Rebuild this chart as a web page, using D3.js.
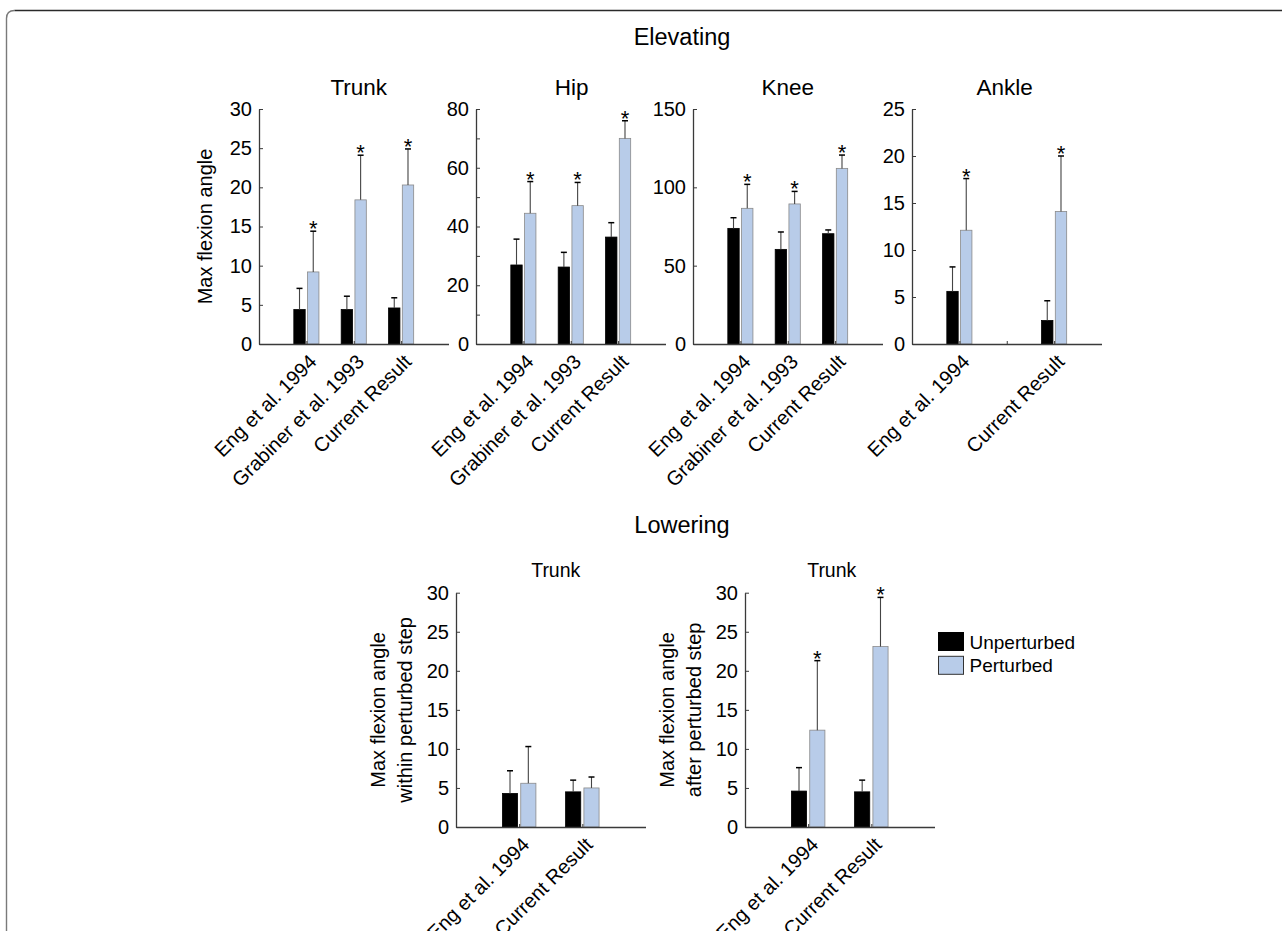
<!DOCTYPE html>
<html>
<head>
<meta charset="utf-8">
<script src="https://cdn.jsdelivr.net/npm/d3@7"></script>
<style>
  html, body { margin: 0; padding: 0; background: #fff; }
  svg { display: block; }
  text { font-family: "Liberation Sans", Arial, sans-serif; fill: #000; }
</style>
</head>
<body>
<svg id="chart" width="1282" height="931"></svg>
<script>
// ---- Data -------------------------------------------------------------
const studiesThree = ["Eng et al. 1994", "Grabiner et al. 1993", "Current Result"];
const studiesAnkle = ["Eng et al. 1994", "", "Current Result"];
const studiesTwo = ["Eng et al. 1994", "Current Result"];

// Elevating: mean and SD of maximum flexion angle (deg)
const trunkUnpert = [4.4, 4.4, 4.6];
const trunkUnpertSd = [2.7, 1.7, 1.3];
const trunkPert = [9.2, 18.4, 20.3];
const trunkPertSd = [5.2, 5.7, 4.6];
const trunkSig = [true, true, true];

const hipUnpert = [26.9, 26.2, 36.4];
const hipUnpertSd = [8.8, 5.0, 4.9];
const hipPert = [44.5, 47.1, 70.0];
const hipPertSd = [10.8, 7.9, 6.0];
const hipSig = [true, true, true];

const kneeUnpert = [73.8, 60.4, 70.4];
const kneeUnpertSd = [6.8, 11.1, 2.4];
const kneePert = [86.6, 89.4, 112.1];
const kneePertSd = [15.3, 8.0, 8.5];
const kneeSig = [true, true, true];

const ankleUnpert = [5.6, 0, 2.5];
const ankleUnpertSd = [2.6, 0, 2.1];
const anklePert = [12.1, 0, 14.1];
const anklePertSd = [5.5, 0, 5.9];
const ankleSig = [true, false, true];

// Lowering: trunk flexion within and after the perturbed step
const withinUnpert = [4.3, 4.5];
const withinUnpertSd = [2.9, 1.5];
const withinPert = [5.6, 5.0];
const withinPertSd = [4.7, 1.4];
const withinSig = [false, false];

const afterUnpert = [4.6, 4.5];
const afterUnpertSd = [3.0, 1.5];
const afterPert = [12.4, 23.1];
const afterPertSd = [8.9, 6.3];
const afterSig = [true, true];

// Tick values and labels
const ticks30 = [0, 5, 10, 15, 20, 25, 30];
const ticks25 = [0, 5, 10, 15, 20, 25];
const ticks80 = [0, 10, 20, 30, 40, 50, 60, 70, 80];
const ticks80Labels = ["0", "", "20", "", "40", "", "60", "", "80"];
const ticks150 = [0, 50, 100, 150];

const seriesNames = ["Unperturbed", "Perturbed"];
const sectionTitles = ["Elevating", "Lowering"];

// ---- Styling ----------------------------------------------------------
const FONT = '"Liberation Sans", Arial, sans-serif';
const C_UNPERT = "#000000";
const C_PERT = "#b8cce9";
const AXIS = "#3a3a3a";

const svg = d3.select("#chart");

// Frame around the figure
svg.append("path")
  .attr("d", "M6.5,931 V18.5 Q6.5,10.5 14.5,10.5")
  .attr("fill", "none").attr("stroke", "#7a7a7a").attr("stroke-width", 1.4);
svg.append("path")
  .attr("d", "M14.5,10.5 H1282")
  .attr("fill", "none").attr("stroke", "#2a2a2a").attr("stroke-width", 1.4);

// Section headings
svg.append("text").attr("x", 682).attr("y", 45)
  .attr("text-anchor", "middle").style("font-size", "23.5px").text(sectionTitles[0]);
svg.append("text").attr("x", 682).attr("y", 533)
  .attr("text-anchor", "middle").style("font-size", "23.5px").text(sectionTitles[1]);

// ---- Panels -----------------------------------------------------------
const panels = [
  { title: "Trunk", titleSize: 22.5, titleY: 95, titleDx: 5,
    x0: 259, y0: 109, y1: 344, cats: studiesThree,
    u: trunkUnpert, us: trunkUnpertSd, p: trunkPert, ps: trunkPertSd, sig: trunkSig,
    max: 30, ticks: ticks30, labels: null, ylab: ["Max flexion angle"] },
  { title: "Hip", titleSize: 22.5, titleY: 95, titleDx: 1,
    x0: 476, y0: 109, y1: 344, cats: studiesThree,
    u: hipUnpert, us: hipUnpertSd, p: hipPert, ps: hipPertSd, sig: hipSig,
    max: 80, ticks: ticks80, labels: ticks80Labels, ylab: null },
  { title: "Knee", titleSize: 22.5, titleY: 95, titleDx: 0,
    x0: 693, y0: 109, y1: 344, cats: studiesThree,
    u: kneeUnpert, us: kneeUnpertSd, p: kneePert, ps: kneePertSd, sig: kneeSig,
    max: 150, ticks: ticks150, labels: null, ylab: null },
  { title: "Ankle", titleSize: 22.5, titleY: 95, titleDx: -2,
    x0: 912, y0: 109, y1: 344, cats: studiesAnkle,
    u: ankleUnpert, us: ankleUnpertSd, p: anklePert, ps: anklePertSd, sig: ankleSig,
    max: 25, ticks: ticks25, labels: null, ylab: null },
  { title: "Trunk", titleSize: 19.5, titleY: 577, titleDx: 5,
    x0: 456, y0: 592.7, y1: 827, cats: studiesTwo,
    u: withinUnpert, us: withinUnpertSd, p: withinPert, ps: withinPertSd, sig: withinSig,
    max: 30, ticks: ticks30, labels: null, ylab: ["Max flexion angle", "within perturbed step"] },
  { title: "Trunk", titleSize: 19.5, titleY: 577, titleDx: -8,
    x0: 745, y0: 592.7, y1: 827, cats: studiesTwo,
    u: afterUnpert, us: afterUnpertSd, p: afterPert, ps: afterPertSd, sig: afterSig,
    max: 30, ticks: ticks30, labels: null, ylab: ["Max flexion angle", "after perturbed step"] }
];

const PANEL_W = 189.5;
const BAR_W = 0.24;      // bar width in category units
const BAR_OFF = 0.145;   // half distance between the two bars of a group

panels.forEach(pn => {
  const n = pn.cats.length;
  const x = d3.scaleLinear().domain([0, n + 1]).range([pn.x0, pn.x0 + PANEL_W]);
  const y = d3.scaleLinear().domain([0, pn.max]).range([pn.y1, pn.y0]);
  const g = svg.append("g");

  // Title
  g.append("text")
    .attr("x", pn.x0 + PANEL_W / 2 + pn.titleDx).attr("y", pn.titleY)
    .attr("text-anchor", "middle").style("font-size", pn.titleSize + "px")
    .text(pn.title);

  // Y axis (ticks pointing inward)
  const yAxis = d3.axisLeft(y).tickValues(pn.ticks)
    .tickSizeInner(-4).tickSizeOuter(0).tickPadding(7)
    .tickFormat((d, i) => pn.labels ? pn.labels[i] : d3.format("d")(d));
  const ya = g.append("g").attr("transform", `translate(${pn.x0},0)`).call(yAxis);
  ya.select(".domain").attr("stroke", AXIS).attr("stroke-width", 1.3);
  ya.selectAll(".tick line").attr("stroke", AXIS);
  ya.selectAll(".tick text").style("font-family", FONT).style("font-size", "20px")
    .attr("fill", "#000");

  // Bars
  const idx = d3.range(n);
  const groups = [
    { vals: pn.u, sds: pn.us, off: -BAR_OFF, fill: C_UNPERT, stroke: "#000", sig: null },
    { vals: pn.p, sds: pn.ps, off: BAR_OFF, fill: C_PERT, stroke: "#8a8a8a", sig: pn.sig }
  ];
  groups.forEach(s => {
    const bw = x(BAR_W) - x(0);
    g.selectAll(null).data(idx).enter().append("rect")
      .attr("x", i => x(i + 1 + s.off) - bw / 2)
      .attr("y", i => y(s.vals[i]))
      .attr("width", bw)
      .attr("height", i => y(0) - y(s.vals[i]))
      .attr("fill", s.fill)
      .attr("stroke", s.stroke).attr("stroke-width", 0.8);

    // One-sided error bars with caps
    const withErr = idx.filter(i => s.sds[i] > 0);
    g.selectAll(null).data(withErr).enter().append("line")
      .attr("x1", i => x(i + 1 + s.off)).attr("x2", i => x(i + 1 + s.off))
      .attr("y1", i => y(s.vals[i])).attr("y2", i => y(s.vals[i] + s.sds[i]))
      .attr("stroke", "#444").attr("stroke-width", 1.1);
    g.selectAll(null).data(withErr).enter().append("line")
      .attr("x1", i => x(i + 1 + s.off) - 3).attr("x2", i => x(i + 1 + s.off) + 3)
      .attr("y1", i => y(s.vals[i] + s.sds[i])).attr("y2", i => y(s.vals[i] + s.sds[i]))
      .attr("stroke", "#000").attr("stroke-width", 1.5);

    // Significance markers
    if (s.sig) {
      g.selectAll(null).data(idx.filter(i => s.sig[i])).enter().append("text")
        .attr("x", i => x(i + 1 + s.off)).attr("y", i => y(s.vals[i] + s.sds[i]) + 5)
        .attr("text-anchor", "middle").style("font-size", "22px").text("*");
    }
  });

  // X axis baseline with inward ticks and rotated labels
  const xAxis = d3.axisBottom(x).tickValues(d3.range(1, n + 1))
    .tickSizeInner(-3).tickSizeOuter(0).tickFormat(d => pn.cats[d - 1]);
  const xa = g.append("g").attr("transform", `translate(0,${pn.y1})`).call(xAxis);
  xa.select(".domain").attr("stroke", AXIS).attr("stroke-width", 1.3);
  xa.selectAll(".tick line").attr("stroke", AXIS);
  xa.selectAll(".tick text")
    .style("font-family", FONT).style("font-size", "20px").attr("fill", "#000")
    .attr("text-anchor", "end").attr("dy", null).attr("y", null)
    .attr("transform", "translate(11,19) rotate(-45)");

  // Y label
  if (pn.ylab) {
    const k = pn.ylab.length;
    pn.ylab.forEach((line, j) => {
      const bx = k === 1 ? pn.x0 - 47 : pn.x0 - 71.5 + j * 27;
      g.append("text")
        .attr("transform", `translate(${bx},${(pn.y0 + pn.y1) / 2}) rotate(-90)`)
        .attr("text-anchor", "middle").style("font-size", "20px").text(line);
    });
  }
});

// ---- Legend -----------------------------------------------------------
const legend = svg.append("g").attr("transform", "translate(938.5,632.5)");
const legendFill = [C_UNPERT, C_PERT];
seriesNames.forEach((name, i) => {
  legend.append("rect")
    .attr("x", 0).attr("y", i * 23.8).attr("width", 25).attr("height", 18)
    .attr("fill", legendFill[i]).attr("stroke", i ? "#333" : "#000").attr("stroke-width", 1);
  legend.append("text")
    .attr("x", 31).attr("y", i * 23.8 + 16)
    .style("font-size", "19px").text(name);
});
</script>
</body>
</html>
